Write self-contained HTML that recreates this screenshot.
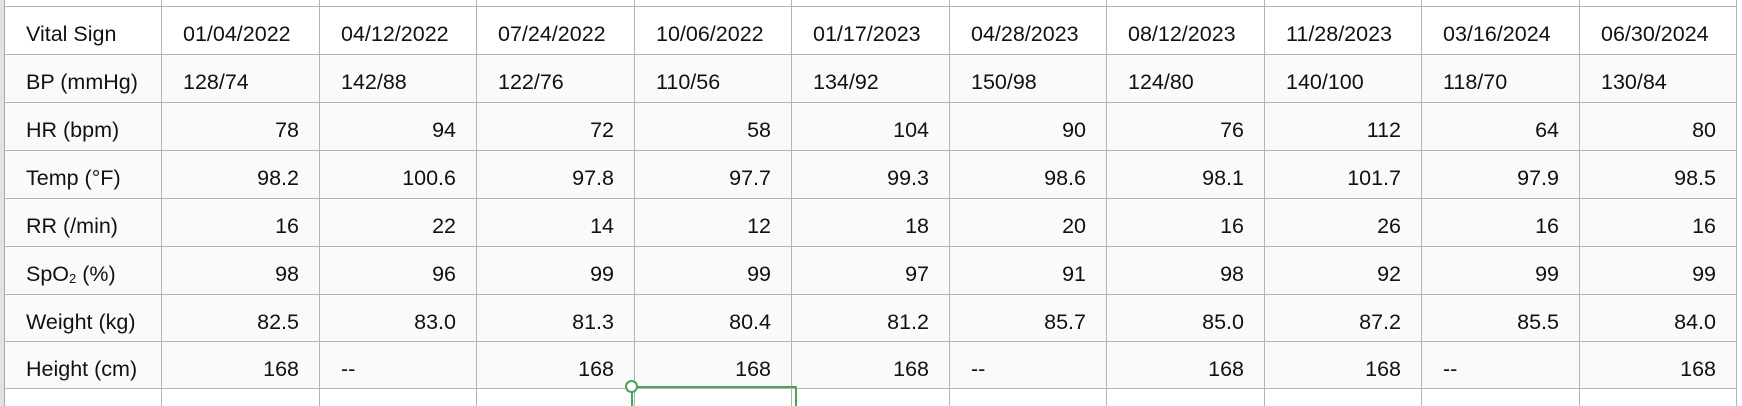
<!DOCTYPE html>
<html><head><meta charset="utf-8"><style>
html,body{margin:0;width:1742px;height:406px;overflow:hidden;background:#fff;font-family:"Liberation Sans",Arial,sans-serif;position:relative}
.gut{position:absolute;left:0;top:0;width:4px;height:406px;background:#e2e2e2;border-right:1px solid #aaa;z-index:2}
.c{position:absolute;box-sizing:border-box;font-size:21.5px;color:#111;white-space:nowrap;line-height:48px;padding:3px 20px 0 21px;border-right:1px solid #b4b4b4;border-bottom:1px solid #b4b4b4;overflow:hidden}
.r{text-align:right}
.nb{border-bottom:none}
</style></head><body>
<div class="gut"></div>
<div id="grid"></div>
<div style="position:absolute;left:631px;top:386px;width:166px;height:20px;border:2px solid #4aa35a;border-bottom:none;box-sizing:border-box"></div>
<div style="position:absolute;left:625px;top:380px;width:9px;height:9px;border:2px solid #4aa35a;border-radius:50%;background:#fff"></div>
<script>
const dates=["01/04/2022","04/12/2022","07/24/2022","10/06/2022","01/17/2023","04/28/2023","08/12/2023","11/28/2023","03/16/2024","06/30/2024"];
const labels=["BP (mmHg)","HR (bpm)","Temp (°F)","RR (/min)","SpO<sub style='font-size:13px;vertical-align:-2px'>2</sub> (%)","Weight (kg)","Height (cm)"];
const bp=["128/74","142/88","122/76","110/56","134/92","150/98","124/80","140/100","118/70","130/84"];
const hr=["78","94","72","58","104","90","76","112","64","80"];
const temp=["98.2","100.6","97.8","97.7","99.3","98.6","98.1","101.7","97.9","98.5"];
const rr=["16","22","14","12","18","20","16","26","16","16"];
const spo2=["98","96","99","99","97","91","98","92","99","99"];
const weight=["82.5","83.0","81.3","80.4","81.2","85.7","85.0","87.2","85.5","84.0"];
const height=["168","--","168","168","168","--","168","168","--","168"];
const rows=[bp,hr,temp,rr,spo2,weight,height];
const g=document.getElementById('grid');
const rowY=[7,55,103,151,199,247,295,342,389];
const colX=[5,162];for(let i=1;i<=10;i++)colX.push(Math.round(162+i*157.5));
function cell(x,y,w,h,html,cls,bg,name){
 const d=document.createElement('div');d.className='c '+cls;
 d.style.left=x+'px';d.style.top=y+'px';d.style.width=w+'px';d.style.height=h+'px';d.style.background=bg;d.innerHTML=html;
 
 
 g.appendChild(d);}
for(let c=0;c<11;c++)cell(colX[c],0,colX[c+1]-colX[c],7,'','','#fff','empty-cell');
cell(colX[0],rowY[0],colX[1]-colX[0],48,'Vital Sign','','#fff','header-vital-sign');
dates.forEach((d,i)=>cell(colX[i+1],rowY[0],colX[i+2]-colX[i+1],48,d,'','#fff','header-date'));
rows.forEach((r,ri)=>{
 const y=rowY[ri+1],h=rowY[ri+2]-y;
 cell(colX[0],y,colX[1]-colX[0],h,labels[ri],'','#fafafa','row-label');
 r.forEach((v,i)=>{const left=(ri===0||v==='--');cell(colX[i+1],y,colX[i+2]-colX[i+1],h,v,left?'':'r','#fafafa','value-cell');});
});
for(let c=0;c<11;c++)cell(colX[c],389,colX[c+1]-colX[c],17,'','nb','#fff','empty-cell');
</script>
</body></html>
